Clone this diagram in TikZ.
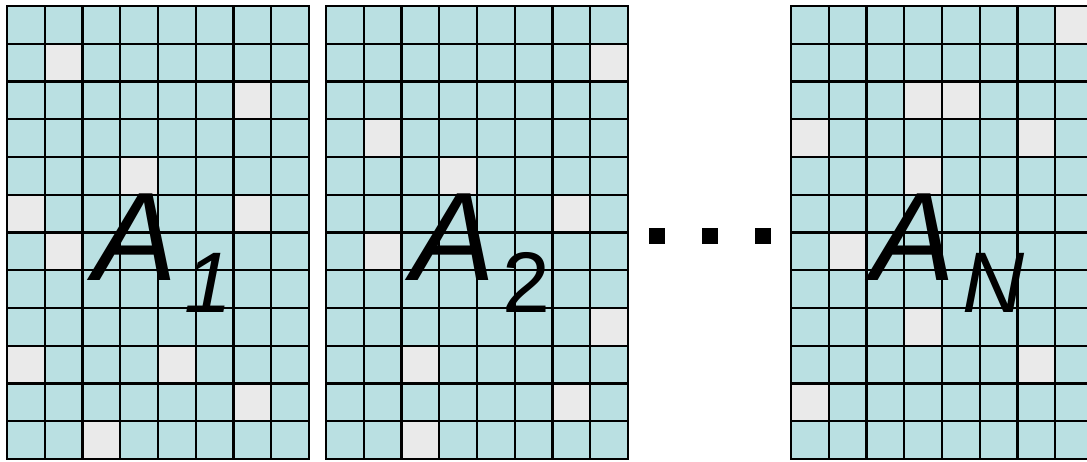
\documentclass[tikz,border=0pt]{standalone}
\usepackage{fontspec}
\setmainfont{Liberation Sans}

\definecolor{cellblue}{RGB}{186,224,226}
\definecolor{cellgray}{RGB}{234,234,234}

\tikzstyle{gridline} = [draw=black, line width=2.4pt, line cap=rect]
\tikzstyle{frame} = [draw=black, line width=2.8pt]
\tikzstyle{hole} = [fill=cellgray]
\tikzstyle{matname} = [inner sep=0pt, anchor=base west, font=\fontsize{126}{126}\selectfont\itshape]
\tikzstyle{dot} = [fill=black]

\newcommand{\subidx}[1]{\hspace{7pt}\raisebox{-32pt}{\fontsize{86}{86}\selectfont #1}}

\begin{document}
\begin{tikzpicture}[x=1pt,y=-1pt]
\clip (0,0) rectangle (1087,461);

	%Matrix A_1
	\begin{scope}[shift={(7,6)}]
	\fill[cellblue] (0,0) rectangle (302,453);
	\foreach \c/\r in {1/1,6/2,3/4,0/5,6/5,1/6,0/9,4/9,6/10,2/11}
		\fill[hole] (\c*37.75,\r*37.75) rectangle ++(37.75,37.75);
	\foreach \c in {1,...,7} \draw[gridline] (\c*37.75,0) -- (\c*37.75,453);
	\foreach \r in {1,...,11} \draw[gridline] (0,\r*37.75) -- (302,\r*37.75);
	\draw[frame] (0,0) rectangle (302,453);
	\end{scope}

	%Matrix A_2
	\begin{scope}[shift={(326,6)}]
	\fill[cellblue] (0,0) rectangle (302,453);
	\foreach \c/\r in {7/1,1/3,3/4,6/5,1/6,7/8,2/9,6/10,2/11}
		\fill[hole] (\c*37.75,\r*37.75) rectangle ++(37.75,37.75);
	\foreach \c in {1,...,7} \draw[gridline] (\c*37.75,0) -- (\c*37.75,453);
	\foreach \r in {1,...,11} \draw[gridline] (0,\r*37.75) -- (302,\r*37.75);
	\draw[frame] (0,0) rectangle (302,453);
	\end{scope}

	%Matrix A_N (cut at the right border)
	\begin{scope}[shift={(791,6)}]
	\fill[cellblue] (0,0) rectangle (302,453);
	\foreach \c/\r in {7/0,3/2,4/2,0/3,6/3,3/4,1/6,3/8,6/9,0/10}
		\fill[hole] (\c*37.75,\r*37.75) rectangle ++(37.75,37.75);
	\foreach \c in {1,...,7} \draw[gridline] (\c*37.75,0) -- (\c*37.75,453);
	\foreach \r in {1,...,11} \draw[gridline] (0,\r*37.75) -- (302,\r*37.75);
	\draw[frame] (0,0) rectangle (302,453);
	\end{scope}

	%Dots between A_2 and A_N
	\foreach \x in {649,702,755}
		\fill[dot] (\x,228) rectangle ++(16,16);

	%Matrix names
	\node[matname] (nameA1) at (93,280) {A\subidx{1}};
	\node[matname] (nameA2) at (411,280) {A\subidx{\upshape 2}};
	\node[matname] (nameAN) at (871,280) {A\subidx{N}};
\end{tikzpicture}
\end{document}
